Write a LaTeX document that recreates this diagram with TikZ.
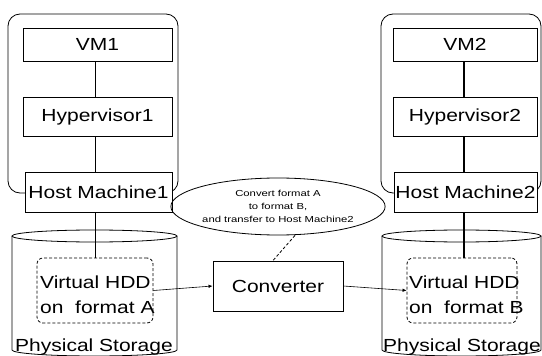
\documentclass[tikz,border=0pt]{standalone}
\usepackage{fontspec}
\setmainfont{Liberation Sans}
\newfontfamily\wide{Liberation Sans}[FakeStretch=1.2]
\newfontfamily\widesmall{Liberation Sans}[FakeStretch=1.3]
\usetikzlibrary{shapes.geometric,arrows.meta,calc}
\begin{document}
\begin{tikzpicture}[x=1pt,y=-1pt,
  frame/.style={draw,rounded corners=12pt,line width=0.8pt},
  boxn/.style={draw,fill=white,line width=0.9pt,inner sep=0pt,font=\wide\fontsize{17.5}{20}\selectfont},
  hdd/.style={draw,densely dashed,rounded corners=6pt,line width=0.8pt,inner sep=0pt},
  lbl/.style={font=\wide\fontsize{17.5}{20}\selectfont,inner sep=0pt},
  conn/.style={line width=0.8pt},
  arr/.style={line width=0.6pt,-{Latex[length=4pt,width=3.5pt]}}]
\useasboundingbox (0,0) rectangle (542,356);
\begin{scope}
\clip (0,0) rectangle (542,356);
% frames
\draw[frame] (8,14) rectangle (178,193);
\draw[frame] (381,14) rectangle (541,193);
% cylinders
\draw[line width=0.8pt] (12,236) -- (12,350) arc[start angle=180,end angle=0,x radius=82.5,y radius=6] -- (177,236);
\draw[line width=0.8pt] (94.5,236) ellipse[x radius=82.5,y radius=6];
\draw[line width=0.8pt] (382,236) -- (382,350) arc[start angle=180,end angle=0,x radius=79.5,y radius=6] -- (541,236);
\draw[line width=0.8pt] (461.5,236) ellipse[x radius=79.5,y radius=6];
\end{scope}
% left stack
\node[boxn,minimum width=149pt,minimum height=33pt] (vm1) at (97.5,44.5) {VM1};
\node[boxn,minimum width=149pt,minimum height=39pt] (hv1) at (97.5,116.5) {Hypervisor1};
\node[boxn,minimum width=147pt,minimum height=40pt] (hm1) at (98.5,192) {Host Machine1};
\node[hdd,minimum width=116pt,minimum height=65pt] (vda) at (95,290.5) {};
\node[lbl,anchor=west] at (40,282) {Virtual HDD};
\node[lbl,anchor=west] at (40,307) {on\ \ format A};
\node[lbl] (ps1) at (94,347) {Physical Storage};
% right stack
\node[boxn,minimum width=144pt,minimum height=33pt] (vm2) at (465,44.5) {VM2};
\node[boxn,minimum width=144pt,minimum height=39pt] (hv2) at (465,116.5) {Hypervisor2};
\node[boxn,minimum width=143pt,minimum height=40pt] (hm2) at (465.5,192) {Host Machine2};
\node[hdd,minimum width=110pt,minimum height=65pt] (vdb) at (462,290.5) {};
\node[lbl,anchor=west] at (409,282) {Virtual HDD};
\node[lbl,anchor=west] at (409,307) {on\ \ format B};
\node[lbl] (ps2) at (462,347) {Physical Storage};
% converter
\node[boxn,minimum width=130pt,minimum height=50pt] (conv) at (278,286) {Converter};
\node[draw,ellipse,line width=0.8pt,minimum width=203pt,minimum height=57pt,inner sep=0pt,
  align=center,font=\widesmall\fontsize{8.7}{13}\selectfont] (note) at (278,206.5)
  {Convert format A\\to format B,\\and transfer to Host Machine2};
% connectors
\draw[conn] (95,61) -- (95,97);
\draw[conn] (95,136) -- (95,172);
\draw[conn] (95,212) -- (95,258);
\draw[line width=1.4pt] (464,61) -- (464,97);
\draw[line width=1.4pt] (464,136) -- (464,172);
\draw[line width=1.2pt] (464,212) -- (464,258);
\draw[arr] (vda.east) -- (conv.west);
\draw[arr] (conv.east) -- (vdb.west);
\draw[conn,densely dashed] ($(note.south)+(17,0)$) -- ($(conv.north)+(-5,0)$);
\end{tikzpicture}
\end{document}
